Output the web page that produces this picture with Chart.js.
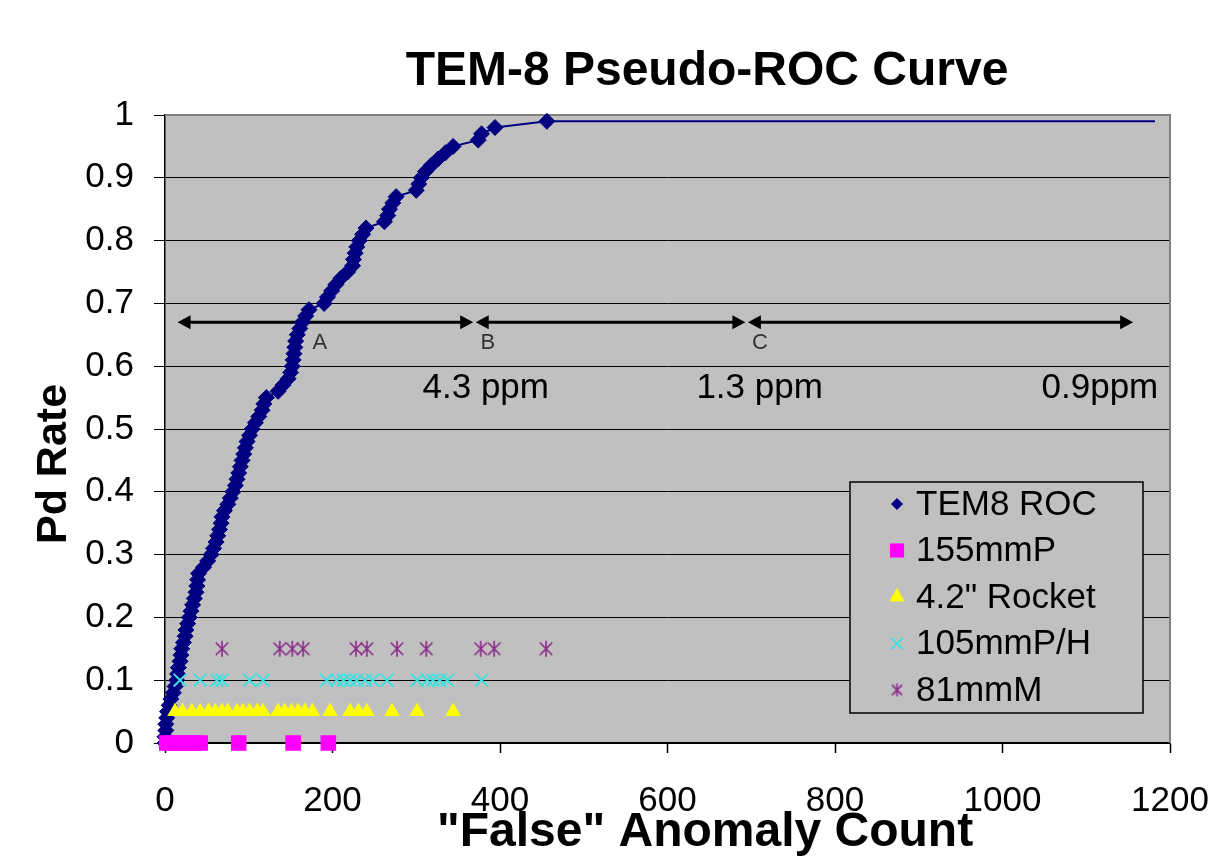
<!DOCTYPE html>
<html>
<head>
<meta charset="utf-8">
<title>TEM-8 Pseudo-ROC Curve</title>
<script src="https://cdn.jsdelivr.net/npm/chart.js@4.4.1/dist/chart.umd.min.js"></script>
<style>
  html, body { margin: 0; padding: 0; background: #fff; }
  .chart-box { width: 1211px; height: 858px; position: relative; }
</style>
</head>
<body>
<div class="chart-box"><canvas id="roc"></canvas></div>
<script>
const chartTitle = 'TEM-8 Pseudo-ROC Curve';
const xTitle = '"False" Anomaly Count';
const yTitle = 'Pd Rate';

// TEM8 ROC curve (last point only carries the flat line out)
const rocCounts = [
  0, 0, 1, 1, 2, 3, 5, 7, 10, 12,
  14, 15, 16, 18, 19, 20, 22, 24, 25, 27,
  29, 31, 33, 35, 37, 38, 39, 40, 46, 51,
  55, 58, 61, 63, 65, 67, 68, 71, 75, 78,
  81, 84, 86, 88, 90, 92, 94, 96, 98, 101,
  104, 108, 112, 116, 118, 121, 135, 141, 147, 150,
  152, 153, 154, 155, 156, 158, 161, 164, 168, 172,
  190, 194, 199, 204, 210, 218, 224, 225, 227, 229,
  232, 236, 240, 262, 266, 268, 272, 276, 300, 303,
  306, 311, 318, 326, 335, 344, 374, 378, 394, 456,
  1182,
];
const rocPd = [
  0.00, 0.01, 0.02, 0.03, 0.04, 0.05, 0.06, 0.07, 0.08, 0.09,
  0.10, 0.11, 0.12, 0.13, 0.14, 0.15, 0.16, 0.17, 0.18, 0.19,
  0.20, 0.21, 0.22, 0.23, 0.24, 0.25, 0.26, 0.27, 0.28, 0.29,
  0.30, 0.31, 0.32, 0.33, 0.34, 0.35, 0.36, 0.37, 0.38, 0.39,
  0.40, 0.41, 0.42, 0.43, 0.44, 0.45, 0.46, 0.47, 0.48, 0.49,
  0.50, 0.51, 0.52, 0.53, 0.54, 0.55, 0.56, 0.57, 0.58, 0.59,
  0.60, 0.61, 0.62, 0.63, 0.64, 0.65, 0.66, 0.67, 0.68, 0.69,
  0.70, 0.71, 0.72, 0.73, 0.74, 0.75, 0.76, 0.77, 0.78, 0.79,
  0.80, 0.81, 0.82, 0.83, 0.84, 0.85, 0.86, 0.87, 0.88, 0.89,
  0.90, 0.91, 0.92, 0.93, 0.94, 0.95, 0.96, 0.97, 0.98, 0.99,
  0.99,
];

// munition types, each plotted on its own row
const shell155Counts = [2, 10, 18, 27, 35, 42, 88, 153, 195];
const shell155Pd = 0;
const rocketCounts = [12, 21, 32, 42, 52, 60, 68, 75, 86, 93, 101, 110, 117,
  135, 143, 151, 159, 167, 176, 197, 221, 231, 241, 271, 301, 344];
const rocketPd = 0.05;
const shell105Counts = [18, 42, 62, 68, 101, 117, 193, 205, 213, 221, 229, 239,
  248, 265, 301, 313, 320, 328, 337, 378];
const shell105Pd = 0.1;
const mortar81Counts = [68, 137, 152, 165, 228, 241, 277, 312, 377, 393, 455];
const mortar81Pd = 0.15;

const seriesNames = ['TEM8 ROC', '155mmP', '4.2" Rocket', '105mmP/H', '81mmM'];

// false alarm bands shown with arrows
const bandEdges = [[15, 368], [371, 693], [696, 1156]];
const bandLetters = ['A', 'B', 'C'];
const bandRates = ['4.3 ppm', '1.3 ppm', '0.9ppm'];

const FONT = 'Arial, "Liberation Sans", sans-serif';

function row(counts, level) {
  return counts.map((x) => ({ x, y: level }));
}

function asteriskMark(size, color) {
  const c = document.createElement('canvas');
  c.width = size;
  c.height = size;
  const g = c.getContext('2d');
  const h = size / 2;
  const r = h - 1;
  const d = r * 0.78;
  g.strokeStyle = color;
  g.lineWidth = 1.6;
  g.beginPath();
  g.moveTo(h, h - r); g.lineTo(h, h + r);
  g.moveTo(h - d, h - d); g.lineTo(h + d, h + d);
  g.moveTo(h + d, h - d); g.lineTo(h - d, h + d);
  g.stroke();
  return c;
}

const rocPoints = rocCounts.map((x, i) => ({ x, y: rocPd[i] }));
const rocRadius = rocCounts.map((x, i) => (i === rocCounts.length - 1 ? 0 : 8));

const purple = '#8B2A8B';
const cyan = '#3FE0E0';

const datasets = [
  {
    label: seriesNames[0], data: rocPoints, order: 1,
    borderColor: '#000080', backgroundColor: '#000080', borderWidth: 2,
    pointStyle: 'rectRot', pointRadius: rocRadius, pointBorderWidth: 1,
    showLine: true, legendRadius: 6,
  },
  {
    label: seriesNames[1], data: row(shell155Counts, shell155Pd), order: 0,
    borderColor: '#FF00FF', backgroundColor: '#FF00FF', pointStyle: 'rect',
    pointRadius: 11, pointBorderWidth: 0, showLine: false, legendRadius: 10,
  },
  {
    label: seriesNames[2], data: row(rocketCounts, rocketPd), order: 0,
    borderColor: '#FFFF00', backgroundColor: '#FFFF00', pointStyle: 'triangle',
    pointRadius: 9, pointBorderWidth: 0, showLine: false, legendRadius: 9,
  },
  {
    label: seriesNames[3], data: row(shell105Counts, shell105Pd), order: 0,
    borderColor: cyan, backgroundColor: cyan, pointStyle: 'crossRot',
    pointRadius: 9, pointBorderWidth: 2, showLine: false, legendRadius: 8,
  },
  {
    label: seriesNames[4], data: row(mortar81Counts, mortar81Pd), order: 0,
    borderColor: purple, backgroundColor: purple, pointStyle: asteriskMark(18, purple),
    pointRadius: 9, showLine: false, legendStyle: asteriskMark(15, purple),
  },
];

const rocDecor = {
  id: 'rocDecor',
  beforeDraw(chart) {
    const { ctx, chartArea: a } = chart;
    ctx.save();
    ctx.fillStyle = '#C0C0C0';
    ctx.fillRect(a.left, a.top, a.right - a.left, a.bottom - a.top);
    ctx.restore();
  },
  beforeDatasetsDraw(chart) {
    const { ctx, chartArea: a } = chart;
    ctx.save();
    ctx.strokeStyle = '#808080';
    ctx.lineWidth = 2;
    ctx.beginPath();
    ctx.moveTo(a.left, a.top);
    ctx.lineTo(a.right, a.top);
    ctx.lineTo(a.right, a.bottom);
    ctx.stroke();

    // bands with double arrows
    const { x, y } = chart.scales;
    const yArrow = y.getPixelForValue(0.67);
    const yLetter = y.getPixelForValue(0.637);
    const head = 13;
    ctx.lineWidth = 3;
    bandEdges.forEach(([from, to], i) => {
      const x1 = x.getPixelForValue(from);
      const x2 = x.getPixelForValue(to);
      ctx.fillStyle = '#000';
      ctx.strokeStyle = '#000';
      ctx.beginPath();
      ctx.moveTo(x1 + head - 1, yArrow);
      ctx.lineTo(x2 - head + 1, yArrow);
      ctx.stroke();
      ctx.beginPath();
      ctx.moveTo(x1, yArrow);
      ctx.lineTo(x1 + head, yArrow - 7);
      ctx.lineTo(x1 + head, yArrow + 7);
      ctx.closePath();
      ctx.moveTo(x2, yArrow);
      ctx.lineTo(x2 - head, yArrow - 7);
      ctx.lineTo(x2 - head, yArrow + 7);
      ctx.closePath();
      ctx.fill();

      ctx.font = `22px ${FONT}`;
      ctx.fillStyle = '#333';
      ctx.textAlign = 'center';
      ctx.textBaseline = 'middle';
      const letterX = i === 0 ? x.getPixelForValue(185) : x1 + 12;
      ctx.fillText(bandLetters[i], letterX, yLetter);
    });

    ctx.fillStyle = '#000';
    ctx.font = `35px ${FONT}`;
    ctx.textBaseline = 'middle';
    const yRate = y.getPixelForValue(0.565);
    ctx.textAlign = 'center';
    ctx.fillText(bandRates[0], x.getPixelForValue(383), yRate);
    ctx.fillText(bandRates[1], x.getPixelForValue(710), yRate);
    ctx.textAlign = 'right';
    ctx.fillText(bandRates[2], x.getPixelForValue(1186), yRate);
    ctx.restore();
  },
  afterDraw(chart) {
    const { ctx } = chart;
    ctx.save();
    ctx.fillStyle = '#000';
    ctx.textAlign = 'center';
    ctx.textBaseline = 'middle';
    ctx.font = `bold 48px ${FONT}`;
    ctx.fillText(chartTitle, 707, 72);
    ctx.font = `bold 48px ${FONT}`;
    ctx.fillText(xTitle, 705, 833);
    ctx.translate(54, 464);
    ctx.rotate(-Math.PI / 2);
    ctx.font = `bold 43px ${FONT}`;
    ctx.fillText(yTitle, 0, 0);
    ctx.restore();

    // legend box
    const box = { left: 850, top: 482, right: 1143, bottom: 713 };
    ctx.save();
    ctx.fillStyle = '#C0C0C0';
    ctx.fillRect(box.left, box.top, box.right - box.left, box.bottom - box.top);
    ctx.strokeStyle = '#000';
    ctx.lineWidth = 1.5;
    ctx.strokeRect(box.left, box.top, box.right - box.left, box.bottom - box.top);
    ctx.font = `35px ${FONT}`;
    ctx.textAlign = 'left';
    ctx.textBaseline = 'middle';
    chart.data.datasets.forEach((ds, i) => {
      const cy = 504 + i * 46.5;
      ctx.fillStyle = ds.backgroundColor;
      ctx.strokeStyle = ds.borderColor;
      ctx.lineWidth = ds.pointStyle === 'crossRot' ? 2 : 1;
      Chart.helpers.drawPoint(ctx, {
        pointStyle: ds.legendStyle || ds.pointStyle,
        radius: ds.legendRadius || 7,
        rotation: 0,
        borderWidth: ds.pointStyle === 'crossRot' ? 2 : 0,
      }, 897, cy);
      ctx.fillStyle = '#000';
      ctx.fillText(ds.label, 916, cy + 1);
    });
    ctx.restore();
  },
};

const tickFont = { family: FONT, size: 35 };

new Chart(document.getElementById('roc'), {
  type: 'scatter',
  data: { datasets },
  plugins: [rocDecor],
  options: {
    responsive: true,
    maintainAspectRatio: false,
    animation: false,
    clip: false,
    layout: { padding: { top: 115, right: 41, bottom: 0, left: 0 } },
    plugins: {
      legend: { display: false },
      tooltip: { enabled: false },
      title: { display: false },
    },
    elements: { line: { tension: 0 } },
    scales: {
      x: {
        type: 'linear',
        min: 0,
        max: 1200,
        afterFit: (scale) => {
          scale.height = 115;
          // labels may hang past the plot edge, like the original
          scale.paddingLeft = 0;
          scale.paddingRight = 0;
        },
        grid: { drawOnChartArea: false, tickLength: 10, tickColor: '#000', tickWidth: 1.5 },
        border: { color: '#000', width: 1.5 },
        ticks: {
          stepSize: 200, color: '#000', font: tickFont, padding: 27, maxRotation: 0,
          callback: (v) => String(v),
        },
      },
      y: {
        min: 0,
        max: 1,
        afterFit: (scale) => { scale.width = 165; },
        grid: { color: '#000', lineWidth: 1, tickLength: 11, tickColor: '#000' },
        border: { color: '#000', width: 1.5 },
        ticks: {
          stepSize: 0.1, color: '#000', font: tickFont, padding: 20,
          callback: (v) => String(Math.round(v * 10) / 10),
        },
      },
    },
  },
});
</script>
</body>
</html>
